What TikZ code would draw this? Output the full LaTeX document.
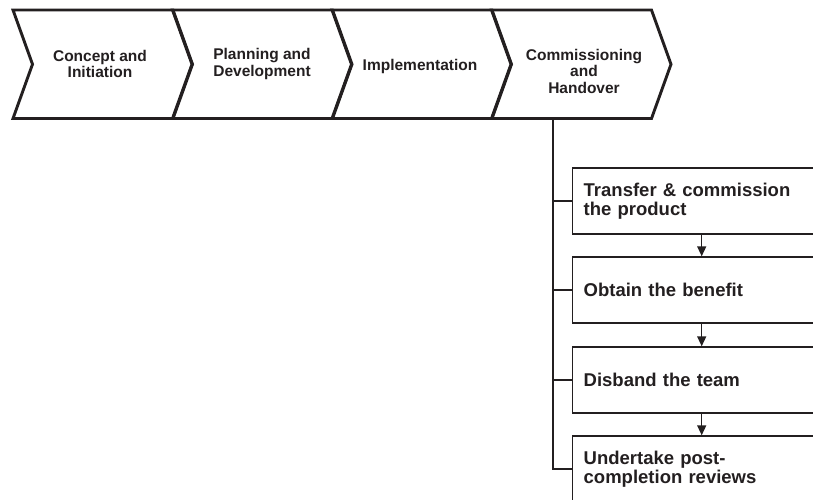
\documentclass[tikz,border=0pt]{standalone}
\usepackage{fontspec}
\setmainfont{Liberation Sans}
\usetikzlibrary{arrows.meta}
\definecolor{ink}{HTML}{231F20}
\begin{document}
\begin{tikzpicture}[x=1pt,y=-1pt,
  phase/.style={draw=ink, line width=2.9pt, line join=miter},
  phasetext/.style={font=\bfseries\fontsize{15.5}{16.5}\selectfont, text=ink, align=center, inner sep=0pt},
  task/.style={draw=ink, line width=1.4pt, rectangle, minimum height=66pt, text width=236pt,
    inner xsep=11pt, align=left, anchor=west, font=\bfseries\fontsize{18.5}{19.5}\selectfont, text=ink},
  link/.style={draw=ink, line width=2pt},
  flow/.style={draw=ink, line width=1.4pt, -{Triangle[length=10pt,width=9pt]}}
]
\clip (0,0) rectangle (813,499);
\fill[white] (0,0) rectangle (813,499);

% project phases as chevrons
\foreach \L in {13,172.5,332,491.5}
  \draw[phase] (\L,10) -- ++(160,0) -- ++(19.5,54.25) -- ++(-19.5,54.25)
    -- ++(-160,0) -- ++(19.5,-54.25) -- cycle;

\node[phasetext] (p1) at (100,64) {Concept and\\Initiation};
\node[phasetext] (p2) at (262,64) {Planning and\\Development};
\node[phasetext] (p3) at (420,66) {Implementation};
\node[phasetext] (p4) at (584,71) {Commissioning\\and\\Handover};

% activities of the last phase
\node[task] (t1) at (572,201) {Transfer \& commission\\the product};
\node[task] (t2) at (572,290) {Obtain the benefit};
\node[task] (t3) at (572,380) {Disband the team};
\node[task] (t4) at (572,469) {Undertake post-\\completion reviews};

% tree stem from the phase down to the activities
\coordinate (stem) at (552.7,118.5);
\draw[link] (stem) |- (t4.west);
\draw[link] (stem |- t1.west) -- (t1.west);
\draw[link] (stem |- t2.west) -- (t2.west);
\draw[link] (stem |- t3.west) -- (t3.west);

% sequence arrows
\draw[flow] (t1.south) -- (t2.north);
\draw[flow] (t2.south) -- (t3.north);
\draw[flow] (t3.south) -- (t4.north);
\end{tikzpicture}
\end{document}
